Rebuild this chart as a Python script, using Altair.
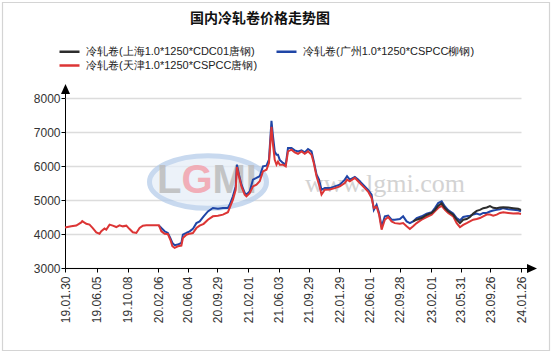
import altair as alt
import pandas as pd

S1 = "冷轧卷(上海1.0*1250*CDC01唐钢)"
S2 = "冷轧卷(广州1.0*1250*CSPCC柳钢)"
S3 = "冷轧卷(天津1.0*1250*CSPCC唐钢)"
TITLE = "国内冷轧卷价格走势图"

dates = [
    "2019-01-30", "2019-02-24", "2019-03-16", "2019-04-05", "2019-04-09", "2019-04-25", "2019-05-08", "2019-05-21", "2019-06-04", "2019-06-17",
    "2019-06-24", "2019-07-07", "2019-07-14", "2019-07-27", "2019-08-09", "2019-08-23", "2019-09-05", "2019-09-18", "2019-10-02", "2019-10-15",
    "2019-10-28", "2019-11-11", "2019-11-24", "2019-12-07", "2019-12-21", "2020-01-10", "2020-01-30", "2020-02-09", "2020-02-19", "2020-03-03",
    "2020-03-16", "2020-03-26", "2020-04-03", "2020-04-12", "2020-04-25", "2020-05-09", "2020-05-15", "2020-05-29", "2020-06-11", "2020-06-24",
    "2020-07-08", "2020-07-21", "2020-08-06", "2020-08-23", "2020-09-12", "2020-10-02", "2020-10-22", "2020-11-11", "2020-11-18", "2020-12-01",
    "2020-12-12", "2020-12-17", "2020-12-25", "2021-01-04", "2021-01-17", "2021-01-24", "2021-02-06", "2021-02-19", "2021-03-05", "2021-03-18",
    "2021-03-31", "2021-04-14", "2021-04-24", "2021-05-04", "2021-05-10", "2021-05-17", "2021-05-24", "2021-05-30", "2021-06-06", "2021-06-19",
    "2021-06-30", "2021-07-09", "2021-07-23", "2021-08-05", "2021-08-18", "2021-09-01", "2021-09-14", "2021-09-27", "2021-10-11", "2021-10-20",
    "2021-10-31", "2021-11-10", "2021-11-20", "2021-12-03", "2021-12-23", "2022-01-12", "2022-02-01", "2022-02-21", "2022-03-02", "2022-03-13",
    "2022-04-02", "2022-04-15", "2022-05-05", "2022-05-25", "2022-06-08", "2022-06-17", "2022-06-28", "2022-07-08", "2022-07-18", "2022-07-31",
    "2022-08-13", "2022-08-27", "2022-09-09", "2022-09-29", "2022-10-12", "2022-10-26", "2022-11-08", "2022-11-21", "2022-12-05", "2022-12-25",
    "2023-01-14", "2023-02-03", "2023-02-16", "2023-03-01", "2023-03-15", "2023-03-28", "2023-04-10", "2023-04-30", "2023-05-14", "2023-05-27",
    "2023-06-09", "2023-06-23", "2023-07-06", "2023-07-19", "2023-08-02", "2023-08-15", "2023-08-28", "2023-09-11", "2023-09-24", "2023-10-07",
    "2023-10-21", "2023-11-03", "2023-11-16", "2023-12-06", "2023-12-26", "2024-01-15", "2024-01-26",
]

# 天津 (red) - full period
tianjin = [
    4190, 4225, 4250, 4340, 4380, 4300, 4275, 4175, 4050, 4010,
    4080, 4160, 4130, 4275, 4245, 4205, 4255, 4225, 4245, 4145,
    4050, 4030, 4175, 4245, 4255, 4255, 4255, 4255, 4080, 4010,
    4000, 3830, 3640, 3590, 3640, 3660, 3880, 3980, 4010, 4030,
    4175, 4245, 4300, 4420, 4520, 4540, 4570, 4640, 4765, 5010,
    5300, 5970, 5700, 5400, 5160, 5110, 5200, 5400, 5450, 5550,
    5840, 5890, 6090, 7150, 6630, 6180, 6040, 6130, 6040, 6040,
    5990, 6430, 6480, 6400, 6360, 6430, 6360, 6430, 6330, 6090,
    5700, 5450, 5160, 5300, 5310, 5350, 5400, 5500, 5600, 5550,
    5650, 5550, 5400, 5250, 5060, 4765, 4800, 4570, 4130, 4420,
    4500, 4370, 4320, 4300, 4320, 4225, 4145, 4225, 4320, 4420,
    4500, 4570, 4665, 4765, 4830, 4710, 4620, 4520, 4320, 4200,
    4270, 4320, 4370, 4420, 4440, 4470, 4520, 4570, 4570, 4540,
    4570, 4620, 4640, 4620, 4600, 4610, 4590,
]

# 广州 (blue) - from 2020-02-09
guangzhou = [
    4255, 4175, 4080,
    4030, 3880, 3740, 3670, 3690, 3740, 3980, 4030, 4080, 4150,
    4320, 4370, 4520, 4665, 4765, 4740, 4765, 4765, 4860, 5110,
    5400, 6040, 5750, 5450, 5210, 5160, 5250, 5600, 5650, 5700,
    5990, 6010, 6190, 7330, 6880, 6430, 6330, 6330, 6180, 6090,
    6040, 6530, 6530, 6460, 6430, 6460, 6400, 6500, 6430, 6140,
    5750, 5600, 5300, 5350, 5350, 5400, 5450, 5600, 5700, 5600,
    5680, 5600, 5450, 5300, 5160, 4710, 4860, 4620, 4220, 4520,
    4540, 4420, 4420, 4440, 4520, 4370, 4320, 4370, 4470, 4520,
    4600, 4640, 4765, 4910, 4960, 4810, 4700, 4600, 4470, 4400,
    4500, 4520, 4540, 4570, 4600, 4570, 4620, 4620, 4660, 4690,
    4710, 4730, 4760, 4730, 4710, 4700, 4670,
]

# 上海 (black) - from 2022-11-21
shanghai = [
    4370, 4420, 4470,
    4560, 4620, 4710, 4830, 4900, 4760, 4670, 4570, 4420, 4320,
    4420, 4440, 4500, 4600, 4680, 4710, 4760, 4780, 4820, 4770,
    4760, 4780, 4790, 4780, 4760, 4740, 4710,
]

tick_dates = [
    (2019, 1, 30), (2019, 6, 5), (2019, 10, 8), (2020, 2, 6), (2020, 6, 4), (2020, 9, 29),
    (2021, 2, 1), (2021, 6, 3), (2021, 9, 29), (2022, 1, 29), (2022, 6, 1), (2022, 9, 28),
    (2023, 2, 1), (2023, 5, 31), (2023, 9, 26), (2024, 1, 26),
]
y_ticks = [3000, 4000, 5000, 6000, 7000, 8000]

series_names = [S1, S2, S3]
series_colors = ["#2d2d2d", "#1f45a6", "#dc3535"]

# watermark logo letters and their colours
logo_letters = ["L", "G", "M", "I"]
logo_colors = ["#bdbdbd", "#f2a3ad", "#bdbdbd", "#bdbdbd"]

rows = []
for name, vals in [(S3, tianjin), (S2, guangzhou), (S1, shanghai)]:
    off = len(dates) - len(vals)
    for i, v in enumerate(vals):
        rows.append({"date": dates[off + i], "series": name, "price": v})
df = pd.DataFrame(rows)

W, H = 456, 170

def dt(t):
    return alt.DateTime(year=t[0], month=t[1], date=t[2], utc=True)

x_enc = alt.X(
    "date:T",
    scale=alt.Scale(type="utc", domain=[dt(tick_dates[0]), dt(tick_dates[-1])]),
    axis=alt.Axis(
        title=None, values=[dt(t) for t in tick_dates], format="%y.%m.%d",
        labelAngle=-90, labelFontSize=12, labelPadding=4, tickSize=4,
        grid=False, labelOverlap=False, labelFlush=False,
    ),
)
y_enc = alt.Y(
    "price:Q",
    scale=alt.Scale(domain=[3000, 8000], nice=False, zero=False),
    axis=alt.Axis(
        title=None, values=y_ticks, format="d", labelFontSize=12, labelPadding=1,
        tickSize=4, grid=True, gridColor="#dcdcdc", gridWidth=1.5,
    ),
)
color_enc = alt.Color(
    "series:N",
    scale=alt.Scale(domain=series_names, range=series_colors),
    legend=alt.Legend(
        title=None, orient="none", legendX=-2, legendY=-53, columns=2,
        direction="horizontal",
        symbolType="M-2,0L2,0", symbolSize=100, symbolStrokeWidth=2.5,
        labelFont="Liberation Sans", labelFontSize=11, labelColor="#222",
        labelOffset=10, columnPadding=13, rowPadding=2, labelLimit=0, padding=0,
    ),
)

base = alt.Chart(df).encode(x=x_enc, y=y_enc, color=color_enc)
lines = [
    base.transform_filter(alt.datum.series == s).mark_line(strokeWidth=2)
    for s in [S2, S3, S1]
]

one = alt.Data(values=[{}])
border = alt.Chart(one).mark_rect(fillOpacity=0, stroke="#d4d4d4", strokeWidth=1.2).encode(
    x=alt.value(-62.5), x2=alt.value(484.5), y=alt.value(-95.5), y2=alt.value(252.5)
)
ellipse = alt.Chart(one).mark_point(
    shape="M-1,0A1,0.45 0 1,0 1,0A1,0.45 0 1,0 -1,0Z",
    filled=True, fill="#e6eef8", stroke="#b6cdea", strokeWidth=5, size=13689, opacity=0.75,
).encode(x=alt.value(143), y=alt.value(84))

letter_x = [104.3, 132.0, 164.2, 186.4]
logo_layers = [
    alt.Chart(one).mark_text(
        text=ch, font="Liberation Sans", fontSize=40, fontWeight="bold",
        color=col, opacity=0.85, align="center", baseline="middle",
    ).encode(x=alt.value(lx), y=alt.value(83))
    for ch, col, lx in zip(logo_letters, logo_colors, letter_x)
]
site = alt.Chart(one).mark_text(
    text="www.lgmi.com", font="Liberation Serif", fontSize=26,
    color="#cccccc", opacity=0.85, align="center", baseline="alphabetic",
).encode(x=alt.value(320), y=alt.value(94))

y_ext = alt.Chart(one).mark_rule(color="#000", strokeWidth=1).encode(
    x=alt.value(0.5), y=alt.value(0), y2=alt.value(-6)
)
y_arrow = alt.Chart(one).mark_point(
    shape="M0,-1L0.9,1L-0.9,1Z", filled=True, color="#000", size=100, opacity=1
).encode(x=alt.value(0.5), y=alt.value(-9))
x_ext = alt.Chart(one).mark_rule(color="#000", strokeWidth=1).encode(
    x=alt.value(W), x2=alt.value(W + 7), y=alt.value(H + 0.5)
)
x_arrow = alt.Chart(one).mark_point(
    shape="M1,0L-1,0.9L-1,-0.9Z", filled=True, color="#000", size=100, opacity=1
).encode(x=alt.value(W + 11), y=alt.value(H + 0.5))

chart = alt.layer(
    border, ellipse, *logo_layers, site, *lines, y_ext, y_arrow, x_ext, x_arrow
).properties(
    width=W, height=H,
    title=alt.Title(
        TITLE, font="Noto Sans CJK SC", fontSize=14, fontWeight="bold",
        color="#111", anchor="middle", dx=-33, dy=24, offset=0,
    ),
    autosize=alt.AutoSizeParams(type="none"),
    padding={"left": 65, "top": 98, "right": 33, "bottom": 86},
    background="white",
).configure_view(strokeWidth=0).configure_axis(
    labelFont="Liberation Sans", labelColor="#333", domainColor="#000",
    tickColor="#000", domainWidth=1,
)

chart.save("out.html", embed_options={"renderer": "svg", "actions": False})
